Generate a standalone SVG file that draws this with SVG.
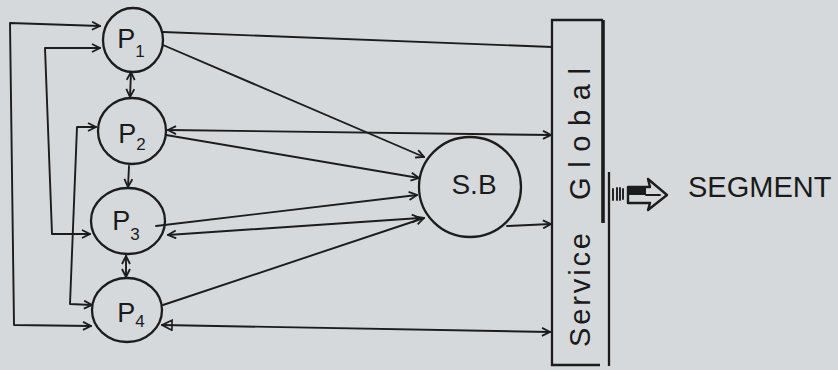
<svg xmlns="http://www.w3.org/2000/svg" width="838" height="370" viewBox="0 0 838 370">
<defs>
<style>
.ln{fill:none;stroke:#1c1c1c;stroke-width:1.9;stroke-linecap:round;stroke-linejoin:round}
.nd{fill:none;stroke:#1c1c1c;stroke-width:2.3}
.tx{font-family:"Liberation Sans",Arial,sans-serif;fill:#1a1a1a}
.pl{font-size:27px;text-anchor:middle}
.sub{font-size:17px}
</style>
<marker id="ah" viewBox="0 0 10 10" refX="9" refY="5" markerWidth="10" markerHeight="10" markerUnits="userSpaceOnUse" orient="auto-start-reverse">
<path d="M1,1 L9,5 L1,9" fill="none" stroke="#1c1c1c" stroke-width="1.8"/>
</marker>
<marker id="tri" viewBox="0 0 12 12" refX="11" refY="6" markerWidth="12" markerHeight="12" markerUnits="userSpaceOnUse" orient="auto-start-reverse">
<path d="M1,1 L11,6 L1,11 Z" fill="none" stroke="#1c1c1c" stroke-width="1.6"/>
</marker>
</defs>
<rect x="0" y="0" width="838" height="370" fill="#d6d9dc"/>

<g id="connectors">
<path class="ln" d="M100,26 L10,23 L14,325 L91,326" marker-start="url(#ah)" marker-end="url(#ah)"/>
<path class="ln" d="M100,48 L45,48 L52,234 L90,234" marker-start="url(#ah)" marker-end="url(#ah)"/>
<path class="ln" d="M96,127 L77,127 L70,304 L92,305" marker-start="url(#ah)" marker-end="url(#ah)"/>
<path class="ln" d="M131,72 L130,97" marker-start="url(#ah)" marker-end="url(#ah)"/>
<path class="ln" d="M129,166 L128,187" marker-end="url(#ah)"/>
<path class="ln" d="M126,256 L126,277" marker-start="url(#ah)" marker-end="url(#ah)"/>
<path class="ln" d="M163,32 L552,47"/>
<path class="ln" d="M163,45 L424,157" marker-end="url(#ah)"/>
<path class="ln" d="M168,130 L551,135" marker-start="url(#ah)" marker-end="url(#ah)"/>
<path class="ln" d="M166,135 L419,178" marker-end="url(#ah)"/>
<path class="ln" d="M156,226 L417,195" marker-end="url(#ah)"/>
<path class="ln" d="M168,235 L420,218" marker-start="url(#ah)" marker-end="url(#ah)"/>
<path class="ln" d="M163,305 L424,218" marker-end="url(#ah)"/>
<path class="ln" d="M162,325 L550,332" marker-start="url(#tri)" marker-end="url(#ah)"/>
<path class="ln" d="M507,226 L551,224" marker-end="url(#ah)"/>
</g>

<g id="P1">
<ellipse class="nd" cx="133" cy="40" rx="30" ry="32"/>
<text class="tx pl" x="131" y="48">P<tspan class="sub" dy="9">1</tspan></text>
</g>
<g id="P2">
<ellipse class="nd" cx="132" cy="131" rx="34" ry="33"/>
<text class="tx pl" x="132" y="143">P<tspan class="sub" dy="7">2</tspan></text>
</g>
<g id="P3">
<ellipse class="nd" cx="128" cy="221" rx="37" ry="33"/>
<text class="tx pl" x="126" y="230">P<tspan class="sub" dy="10">3</tspan></text>
</g>
<g id="P4">
<ellipse class="nd" cx="127" cy="310" rx="35" ry="32"/>
<text class="tx pl" x="131" y="322">P<tspan class="sub" dy="5">4</tspan></text>
</g>
<g id="SB">
<ellipse class="nd" cx="470" cy="187" rx="51" ry="50"/>
<text class="tx" x="474" y="194" font-size="28" text-anchor="middle">S.B</text>
</g>
<g id="ServiceGlobal">
<path class="nd" d="M603,20 L552,20 L552,365 L600,365"/>
<path fill="none" stroke="#1c1c1c" stroke-width="3.6" d="M603,20 L603,223"/>
<path class="nd" d="M609,172 L609,366"/>
<text class="tx" transform="translate(590,347) rotate(-90)" x="0" y="0" font-size="29" textLength="114" lengthAdjust="spacing">Service</text>
<text class="tx" transform="translate(590,200) rotate(-90)" x="0" y="0" font-size="29" textLength="132" lengthAdjust="spacing">Global</text>
</g>
<g id="SEGMENT">
<path class="ln" d="M613,189 L613,200 M617,188 L617,200 M620,188 L620,200 M623,189 L623,199"/>
<path fill="none" stroke="#1c1c1c" stroke-width="2.4" stroke-linejoin="round" d="M628,187 L650,187 L648,179 L667,195 L648,210 L650,203 L628,203 Z"/>
<rect x="628" y="187" width="18" height="8" fill="#1c1c1c"/>
<path class="ln" d="M646,195 L660,195"/>
<text class="tx" x="688" y="197" font-size="29">SEGMENT</text>
</g>
</svg>
